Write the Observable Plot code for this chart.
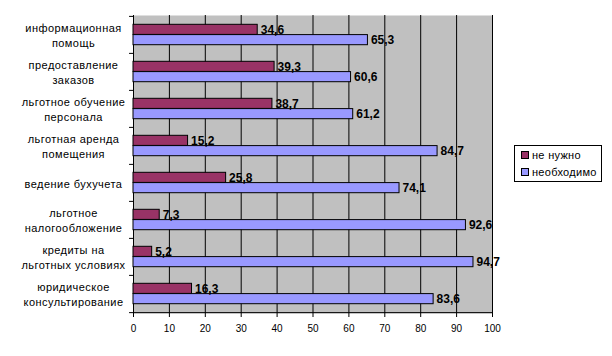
<!DOCTYPE html>
<html>
<head>
<meta charset="utf-8">
<script src="https://cdn.jsdelivr.net/npm/d3@7"></script>
<script src="https://cdn.jsdelivr.net/npm/@observablehq/plot@0.6"></script>
<style>
  body { margin: 0; background: #fff; font-family: "Liberation Sans", Arial, sans-serif; }
  #wrap { position: relative; width: 612px; height: 356px; }
  #legend { position: absolute; left: 514px; top: 145px; width: 86px; height: 35px; border: 1px solid #000; background: #fff; font-size: 11px; }
  .item { position: absolute; left: 6px; display: flex; align-items: center; white-space: nowrap; letter-spacing: 0.3px; }
  .sw { width: 6px; height: 6px; border: 1px solid #000; margin-right: 3px; }
  .catlab text { letter-spacing: 0.45px; }
</style>
</head>
<body>
<div id="wrap"></div>
<script>
const categories = [
  "информационная\nпомощь",
  "предоставление\nзаказов",
  "льготное обучение\nперсонала",
  "льготная аренда\nпомещения",
  "ведение бухучета",
  "льготное\nналогообложение",
  "кредиты на\nльготных условиях",
  "юридическое\nконсультирование"
];
const seriesNames = ["не нужно", "необходимо"];
const notNeeded = [34.6, 39.3, 38.7, 15.2, 25.8, 7.3, 5.2, 16.3];
const needed = [65.3, 60.6, 61.2, 84.7, 74.1, 92.6, 94.7, 83.6];
const xTicks = [0, 10, 20, 30, 40, 50, 60, 70, 80, 90, 100];
const colors = ["#993366", "#9999FF"];

const rowsA = categories.map((c, i) => ({category: c, series: seriesNames[0], value: notNeeded[i]}));
const rowsB = categories.map((c, i) => ({category: c, series: seriesNames[1], value: needed[i]}));
const fmt = v => v.toFixed(1).replace(".", ",");

const band = 298 / categories.length;

const chart = Plot.plot({
  width: 612,
  height: 356,
  marginLeft: 133,
  marginRight: 120,
  marginTop: 15,
  marginBottom: 43,
  style: {fontFamily: "'Liberation Sans', Arial, sans-serif", background: "transparent"},
  x: {domain: [0, 100], label: null},
  y: {domain: categories, padding: 0, axis: null},
  marks: [
    Plot.frame({fill: "#C0C0C0", stroke: null}),
    Plot.ruleX(xTicks, {stroke: "#000", strokeWidth: 1}),
    Plot.barX(rowsA, {x: "value", y: "category", fill: colors[0], stroke: "#000", strokeWidth: 1, insetTop: 8.3, insetBottom: 18.6}),
    Plot.barX(rowsB, {x: "value", y: "category", fill: colors[1], stroke: "#000", strokeWidth: 1, insetTop: 18.6, insetBottom: 8.3}),
    Plot.text(rowsA, {x: "value", y: "category", text: d => fmt(d.value), dx: 3, dy: -5.3, textAnchor: "start", fontWeight: "bold", fontSize: 12, fill: "#000"}),
    Plot.text(rowsB, {x: "value", y: "category", text: d => fmt(d.value), dx: 3, dy: 5.3, textAnchor: "start", fontWeight: "bold", fontSize: 12, fill: "#000"}),
    Plot.text(categories, {y: d => d, text: d => d, frameAnchor: "left", dx: -60, textAnchor: "middle", lineHeight: 1.36, fontSize: 11, fill: "#000", className: "catlab"}),
    Plot.ruleY(categories, {y: d => d, x1: -1.1, x2: 0, dy: -band / 2, stroke: "#000"}),
    Plot.ruleY(categories.slice(-1), {y: d => d, x1: -1.1, x2: 0, dy: band / 2, stroke: "#000"}),
    Plot.ruleY(categories.slice(-1), {y: d => d, x1: 0, x2: 100, dy: band / 2, stroke: "#000"}),
    Plot.axisX(xTicks, {tickSize: 4, tickPadding: 7, fontSize: 10, label: null, tickFormat: d => String(d)})
  ]
});
document.getElementById("wrap").appendChild(chart);

const legend = document.createElement("div");
legend.id = "legend";
seriesNames.forEach((name, i) => {
  const item = document.createElement("div");
  item.className = "item";
  item.style.top = (3 + i * 17) + "px";
  const sw = document.createElement("span");
  sw.className = "sw";
  sw.style.background = colors[i];
  const t = document.createElement("span");
  t.textContent = name;
  item.appendChild(sw);
  item.appendChild(t);
  legend.appendChild(item);
});
document.getElementById("wrap").appendChild(legend);
</script>
</body>
</html>
